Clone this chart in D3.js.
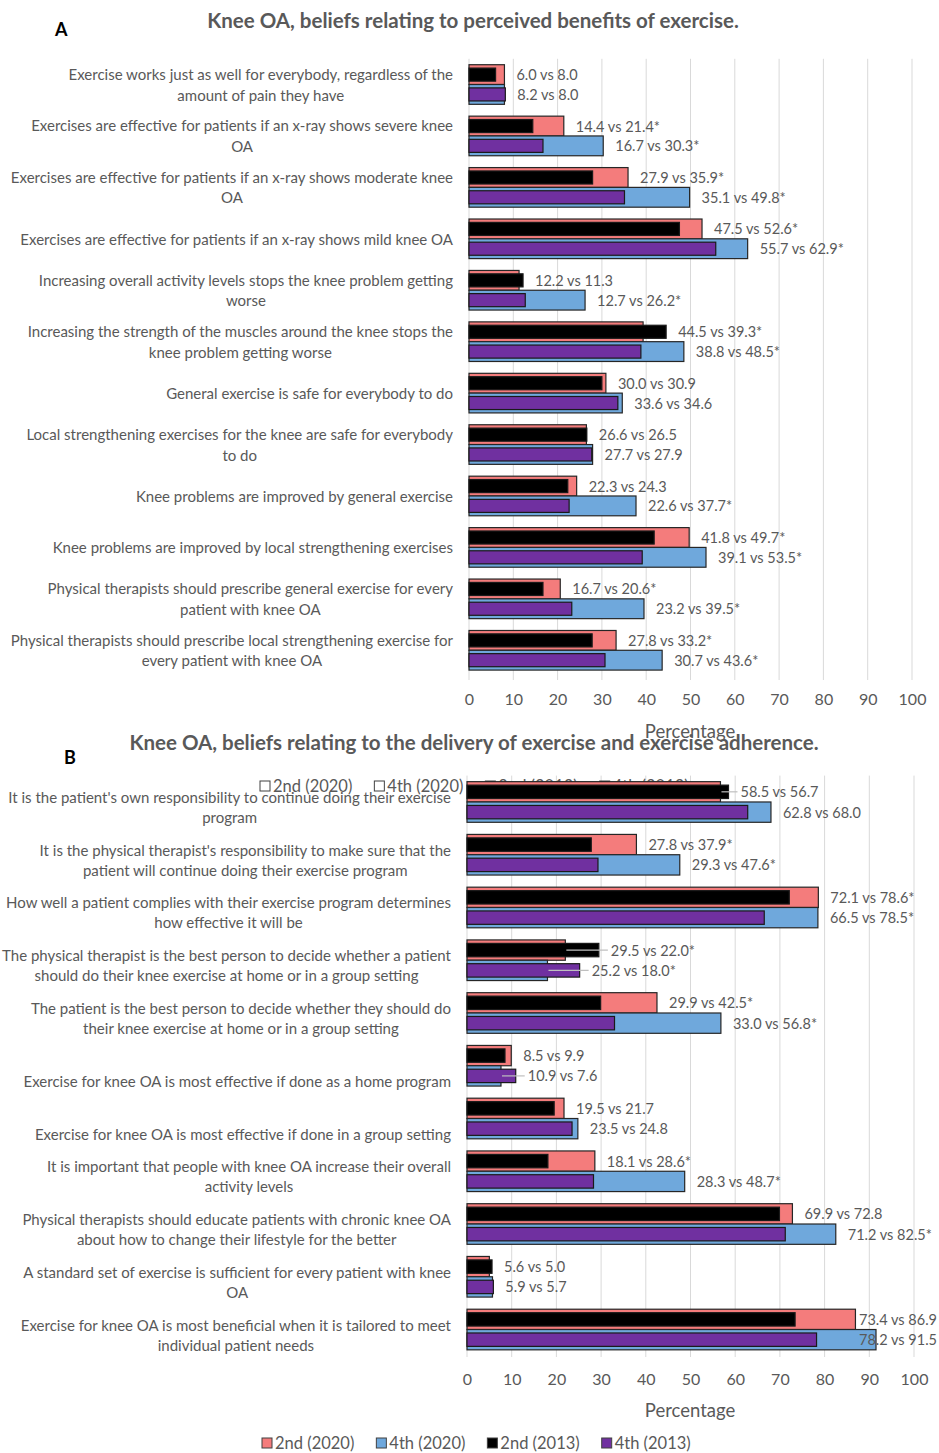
<!DOCTYPE html>
<html>
<head>
<meta charset="utf-8">
<script src="https://cdn.jsdelivr.net/npm/d3@7"></script>
<style>
  body { margin: 0; background: #fff; }
  text { font-family: Lato, "Open Sans", sans-serif; }
</style>
</head>
<body>
<div id="chart"></div>
<script>
// ---- panel A data ----
var labelsA = [
    ["Exercise works just as well for everybody, regardless of the", "amount of pain they have"],
    ["Exercises are effective for patients if an x-ray shows severe knee", "OA"],
    ["Exercises are effective for patients if an x-ray shows moderate knee", "OA"],
    ["Exercises are effective for patients if an x-ray shows mild knee OA"],
    ["Increasing overall activity levels stops the knee problem getting", "worse"],
    ["Increasing the strength of the muscles around the knee stops the", "knee problem getting worse"],
    ["General exercise is safe for everybody to do"],
    ["Local strengthening exercises for the knee are safe for everybody", "to do"],
    ["Knee problems are improved by general exercise"],
    ["Knee problems are improved by local strengthening exercises"],
    ["Physical therapists should prescribe general exercise for every", "patient with knee OA"],
    ["Physical therapists should prescribe local strengthening exercise for", "every patient with knee OA"]
];
var a2nd2013 = [6.0, 14.4, 27.9, 47.5, 12.2, 44.5, 30.0, 26.6, 22.3, 41.8, 16.7, 27.8];
var a2nd2020 = [8.0, 21.4, 35.9, 52.6, 11.3, 39.3, 30.9, 26.5, 24.3, 49.7, 20.6, 33.2];
var a4th2013 = [8.2, 16.7, 35.1, 55.7, 12.7, 38.8, 33.6, 27.7, 22.6, 39.1, 23.2, 30.7];
var a4th2020 = [8.0, 30.3, 49.8, 62.9, 26.2, 48.5, 34.6, 27.9, 37.7, 53.5, 39.5, 43.6];
var aStar2nd = [0, 1, 1, 1, 0, 1, 0, 0, 0, 1, 1, 1];
var aStar4th = [0, 1, 1, 1, 1, 1, 0, 0, 1, 1, 1, 1];

// ---- panel B data ----
var labelsB = [
    ["It is the patient's own responsibility to continue doing their exercise", "program"],
    ["It is the physical therapist's responsibility to make sure that the", "patient will continue doing their exercise program"],
    ["How well a patient complies with their exercise program determines", "how effective it will be"],
    ["The physical therapist is the best person to decide whether a patient", "should do their knee exercise at home or in a group setting"],
    ["The patient is the best person to decide whether they should do", "their knee exercise at home or in a group setting"],
    ["Exercise for knee OA is most effective if done as a home program"],
    ["Exercise for knee OA is most effective if done in a group setting"],
    ["It is important that people with knee OA increase their overall", "activity levels"],
    ["Physical therapists should educate patients with chronic knee OA", "about how to change their lifestyle for the better"],
    ["A standard set of exercise is sufficient for every patient with knee", "OA"],
    ["Exercise for knee OA is most beneficial when it is tailored to meet", "individual patient needs"]
];
var b2nd2013 = [58.5, 27.8, 72.1, 29.5, 29.9, 8.5, 19.5, 18.1, 69.9, 5.6, 73.4];
var b2nd2020 = [56.7, 37.9, 78.6, 22.0, 42.5, 9.9, 21.7, 28.6, 72.8, 5.0, 86.9];
var b4th2013 = [62.8, 29.3, 66.5, 25.2, 33.0, 10.9, 23.5, 28.3, 71.2, 5.9, 78.2];
var b4th2020 = [68.0, 47.6, 78.5, 18.0, 56.8, 7.6, 24.8, 48.7, 82.5, 5.7, 91.5];
var bStar2nd = [0, 1, 1, 1, 1, 0, 0, 1, 0, 0, 0];
var bStar4th = [0, 1, 1, 1, 1, 0, 0, 1, 1, 0, 0];
// labels that got a leader line in the original
var bLeaders = ["0-2nd", "3-2nd", "3-4th", "5-4th"];

var ticks = [0, 10, 20, 30, 40, 50, 60, 70, 80, 90, 100];
var seriesNames = ["2nd (2020)", "4th (2020)", "2nd (2013)", "4th (2013)"];
var seriesColors = ["#f47c7c", "#6fa8dc", "#000000", "#7030a0"];

var textGrey = "#595959";

var svg = d3.select("#chart").append("svg")
    .attr("width", 939)
    .attr("height", 1453);

svg.append("rect").attr("width", 939).attr("height", 1453).attr("fill", "#fff");

function legend(parent, y, x0, fills) {
    var gx = x0;
    var lg = parent.append("g");
    seriesNames.forEach(function (name, i) {
        lg.append("rect")
            .attr("x", gx).attr("y", y - 5)
            .attr("width", 10).attr("height", 10)
            .attr("fill", fills[i])
            .attr("stroke", "#404040")
            .attr("stroke-width", 1);
        var t = lg.append("text")
            .attr("x", gx + 13).attr("y", y)
            .attr("dominant-baseline", "central")
            .attr("font-size", 16.5)
            .attr("fill", textGrey)
            .text(name);
        gx += 13 + t.node().getComputedTextLength() + 22;
    });
}

function drawPanel(p) {
    var n = p.labels.length;
    var x = d3.scaleLinear().domain([0, 100]).range([p.x0, p.x1]);
    var y = d3.scaleBand().domain(d3.range(n))
        .range([p.top, p.bottom])
        .paddingInner(0.23)
        .paddingOuter(0.115);
    var sub = d3.scaleBand().domain(["2nd", "4th"]).range([0, y.bandwidth()]);

    var g = svg.append("g");

    // titles
    svg.append("text")
        .attr("x", p.letterX).attr("y", p.letterY)
        .attr("dominant-baseline", "central")
        .attr("font-size", 18).attr("font-weight", "bold")
        .attr("fill", "#000")
        .text(p.letter);
    svg.append("text")
        .attr("x", p.titleX).attr("y", p.titleY)
        .attr("text-anchor", "middle")
        .attr("dominant-baseline", "central")
        .attr("font-size", p.titleSize).attr("font-weight", "bold")
        .attr("fill", textGrey)
        .text(p.title);

    // gridlines
    g.selectAll(".grid")
        .data(ticks)
        .enter()
        .append("line")
        .attr("x1", d => x(d)).attr("x2", d => x(d))
        .attr("y1", p.top).attr("y2", p.gridBottom)
        .attr("stroke", "#d9d9d9")
        .attr("stroke-width", 1);

    // x axis
    var axis = g.append("g")
        .attr("transform", `translate(0, ${p.axisY})`)
        .call(d3.axisBottom(x).tickValues(ticks).tickSize(0).tickPadding(0));
    axis.select(".domain").remove();
    axis.selectAll("text")
        .attr("font-size", 16)
        .attr("font-family", "Lato, sans-serif")
        .attr("fill", textGrey);

    g.append("text")
        .attr("x", p.axisTitleX).attr("y", p.axisTitleY)
        .attr("text-anchor", "middle")
        .attr("dominant-baseline", "central")
        .attr("font-size", 18.5)
        .attr("fill", textGrey)
        .text("Percentage");

    if (p.beforeBars) p.beforeBars(g);

    // category labels: block right-aligned, lines centred inside the block
    p.labels.forEach(function (lines, i) {
        var cy = y(i) + y.bandwidth() / 2;
        var offs = p.lineOffsets(lines.length);
        var texts = lines.map(function (line, j) {
            return g.append("text")
                .attr("y", cy + offs[j])
                .attr("text-anchor", "middle")
                .attr("dominant-baseline", "central")
                .attr("font-size", p.labelSize)
                .attr("fill", textGrey)
                .text(line);
        });
        var maxW = d3.max(texts, t => t.node().getComputedTextLength());
        texts.forEach(t => t.attr("x", p.labelX - maxW / 2));
    });

    // bars
    var rows = [];
    for (var i = 0; i < n; i++) {
        rows.push({ i: i, key: "2nd", v20: p.s2nd2020[i], v13: p.s2nd2013[i], star: p.star2nd[i], c20: seriesColors[0], c13: seriesColors[2] });
        rows.push({ i: i, key: "4th", v20: p.s4th2020[i], v13: p.s4th2013[i], star: p.star4th[i], c20: seriesColors[1], c13: seriesColors[3] });
    }
    var bh = sub.bandwidth();
    var nh = bh * 0.66;

    g.selectAll(".bar20")
        .data(rows)
        .enter()
        .append("rect")
        .attr("x", x(0))
        .attr("y", d => y(d.i) + sub(d.key))
        .attr("width", d => x(d.v20) - x(0))
        .attr("height", bh)
        .attr("fill", d => d.c20)
        .attr("stroke", "#262626")
        .attr("stroke-width", 1.2);

    g.selectAll(".bar13")
        .data(rows)
        .enter()
        .append("rect")
        .attr("x", x(0))
        .attr("y", d => y(d.i) + sub(d.key) + (bh - nh) / 2)
        .attr("width", d => x(d.v13) - x(0))
        .attr("height", nh)
        .attr("fill", d => d.c13)
        .attr("stroke", "#1a1a1a")
        .attr("stroke-width", 1.2);

    // value labels
    rows.forEach(function (d) {
        var cy = y(d.i) + sub(d.key) + bh / 2;
        var end = x(Math.max(d.v20, d.v13));
        var t = g.append("text")
            .attr("y", cy)
            .attr("dominant-baseline", "central")
            .attr("font-size", 14.5)
            .attr("fill", textGrey)
            .text(d.v13.toFixed(1) + " vs " + d.v20.toFixed(1) + (d.star ? "*" : ""));
        var w = t.node().getComputedTextLength();
        var tx = Math.min(end + 12, 937 - w);
        t.attr("x", tx);
        if (p.leaders.indexOf(d.i + "-" + d.key) >= 0) {
            g.append("line")
                .attr("x1", x(d.v20) + 1).attr("x2", tx - 3)
                .attr("y1", cy).attr("y2", cy)
                .attr("stroke", "#bfbfbf")
                .attr("stroke-width", 1.2);
        }
    });
}

drawPanel({
    letter: "A", letterX: 55, letterY: 29,
    title: "Knee OA, beliefs relating to perceived benefits of exercise.",
    titleX: 473, titleY: 20, titleSize: 20.5,
    labels: labelsA,
    s2nd2013: a2nd2013, s2nd2020: a2nd2020, s4th2013: a4th2013, s4th2020: a4th2020,
    star2nd: aStar2nd, star4th: aStar4th, leaders: [],
    x0: 469, x1: 912, top: 58.8, bottom: 676, gridBottom: 680,
    axisY: 694, axisTitleX: 690, axisTitleY: 731,
    labelX: 453, labelSize: 15,
    lineOffsets: k => k == 2 ? [-10.5, 10] : [0]
});

drawPanel({
    letter: "B", letterX: 64, letterY: 757,
    title: "Knee OA, beliefs relating to the delivery of exercise and exercise adherence.",
    titleX: 474, titleY: 742, titleSize: 20.5,
    labels: labelsB,
    s2nd2013: b2nd2013, s2nd2020: b2nd2020, s4th2013: b4th2013, s4th2020: b4th2020,
    star2nd: bStar2nd, star4th: bStar4th, leaders: bLeaders,
    x0: 467, x1: 914, top: 775.6, bottom: 1355.9, gridBottom: 1357,
    axisY: 1374, axisTitleX: 690, axisTitleY: 1410,
    labelX: 451, labelSize: 15,
    lineOffsets: k => k == 2 ? [-5, 15] : [15],
    // the original legend sits behind the first bars of panel B
    beforeBars: function (g) { legend(g, 786, 260, ["#fff", "#fff", "#000", "#000"]); }
});

legend(svg, 1443, 262, seriesColors);
</script>
</body>
</html>
